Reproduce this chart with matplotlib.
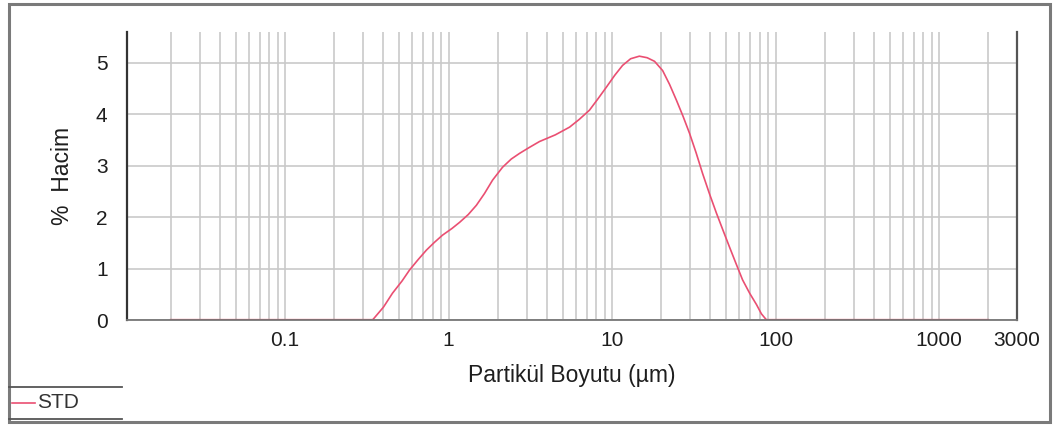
import matplotlib
matplotlib.use("Agg")
import matplotlib.pyplot as plt
from matplotlib.lines import Line2D
from matplotlib.patches import Rectangle
from matplotlib.ticker import FixedLocator, LogLocator, NullFormatter

plt.rcParams['font.family'] = ['Liberation Sans', 'DejaVu Sans']

# Particle size distribution (volume %) vs. particle size (µm)
size_um = [0.02, 0.1, 0.30, 0.343, 0.40, 0.454, 0.52, 0.577, 0.65, 0.733, 0.82, 0.919,
           1.05, 1.17, 1.32, 1.48, 1.66, 1.86, 2.14, 2.42, 2.72, 3.1, 3.60, 4.5,
           5.50, 6.3, 7.28, 8.2, 9.25, 10.4, 11.6, 13.0, 14.7, 16.4, 18.2, 20.4,
           22.5, 24.8, 27.2, 29.8, 32.7, 35.8, 39.5, 43.5, 47.8, 52.3, 57.3,
           62.9, 69.5, 76.5, 82.0, 88.1, 200, 2000]
volume_pct = [0.0, 0.0, 0.0, 0.0, 0.25, 0.52, 0.76, 0.97, 1.17, 1.36, 1.51, 1.65,
              1.78, 1.90, 2.05, 2.23, 2.46, 2.72, 2.97, 3.13, 3.24, 3.35, 3.47, 3.60,
              3.75, 3.90, 4.08, 4.30, 4.53, 4.76, 4.95, 5.08, 5.13, 5.10, 5.03, 4.85,
              4.58, 4.27, 3.96, 3.63, 3.25, 2.85, 2.45, 2.08, 1.74, 1.42, 1.10,
              0.78, 0.52, 0.30, 0.12, 0.0, 0.0, 0.0]

x_ticks = [0.1, 1, 10, 100, 1000, 3000]
x_tick_labels = ['0.1', '1', '10', '100', '1000', '3000']
y_ticks = [0, 1, 2, 3, 4, 5]

W, H = 1054, 426
fig = plt.figure(figsize=(W / 100, H / 100), dpi=100)
fig.patch.set_facecolor('white')

ax = fig.add_axes([127 / W, 1 - 320 / H, (1017 - 127) / W, (320 - 32) / H])
ax.set_xscale('log')
ax.set_xlim(0.0108, 3000)
ax.set_ylim(0, 5.6)

grid_color = '#c9c9c9'
ax.xaxis.set_major_locator(FixedLocator(x_ticks))
ax.set_xticklabels(x_tick_labels)
ax.xaxis.set_minor_locator(LogLocator(base=10, subs=range(2, 10), numticks=20))
ax.xaxis.set_minor_formatter(NullFormatter())
ax.set_yticks(y_ticks)

ax.grid(True, which='both', axis='x', color=grid_color, linewidth=1.2)
ax.grid(True, which='major', axis='y', color=grid_color, linewidth=1.2)
ax.set_axisbelow(True)

text_color = '#1e1e1e'
ax.tick_params(axis='both', which='both', length=0, labelsize=15, colors=text_color)
ax.tick_params(axis='x', pad=8)
ax.tick_params(axis='y', pad=14)

ax.spines['top'].set_visible(False)
ax.spines['left'].set_color('#333333')
ax.spines['left'].set_linewidth(1.6)
ax.spines['bottom'].set_color('#777777')
ax.spines['bottom'].set_linewidth(1.3)
ax.spines['right'].set_color('#555555')
ax.spines['right'].set_linewidth(1.6)

line_color = '#ea4f72'
ax.plot(size_um, volume_pct, color=line_color, linewidth=1.2, solid_joinstyle='round')
# emphasised zero baseline where the distribution is empty
ax.plot(size_um[:4], volume_pct[:4], color='#e8314f', linewidth=1.6)
ax.plot(size_um[-3:], volume_pct[-3:], color='#e8314f', linewidth=1.6)

ax.set_xlabel('Partikül Boyutu (µm)', fontsize=16.5, color=text_color, labelpad=10)
ax.set_ylabel('%  Hacim', fontsize=16.5, color=text_color, labelpad=16)

# outer frame
fig.add_artist(Rectangle((9 / W, 1 - 422 / H), (1050 - 9) / W, (422 - 4) / H,
                         transform=fig.transFigure, fill=False,
                         edgecolor='#7a7a7a', linewidth=2.2))

# legend block in the lower-left corner
for yy in (387, 419):
    fig.add_artist(Line2D([9 / W, 122 / W], [1 - yy / H, 1 - yy / H],
                          transform=fig.transFigure, color='#555555', linewidth=1.3))
fig.add_artist(Line2D([12 / W, 35 / W], [1 - 403 / H, 1 - 403 / H],
                      transform=fig.transFigure, color=line_color, linewidth=1.2))
fig.text(37 / W, 1 - 403 / H, 'STD', fontsize=15, color='#333333',
         ha='left', va='center')

fig.savefig('out.png', dpi=100, facecolor='white')
